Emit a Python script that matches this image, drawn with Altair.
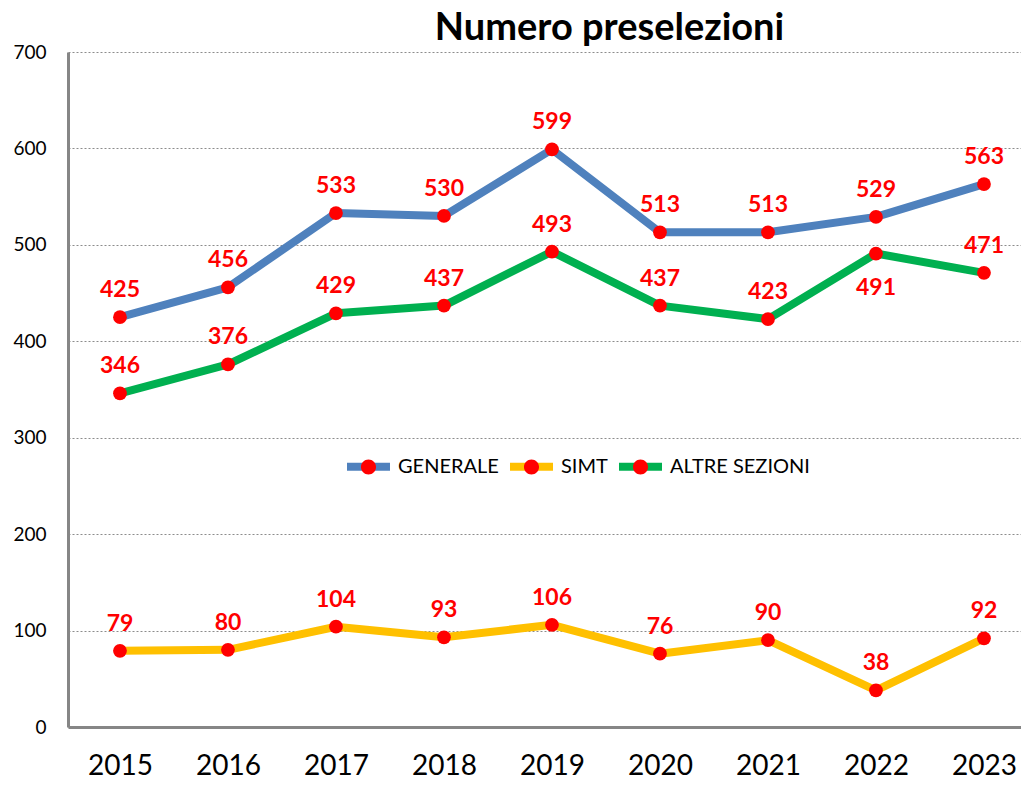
import altair as alt
import pandas as pd

years = ["2015", "2016", "2017", "2018", "2019", "2020", "2021", "2022", "2023"]
series_names = ["GENERALE", "SIMT", "ALTRE SEZIONI"]
generale = [425, 456, 533, 530, 599, 513, 513, 529, 563]
simt = [79, 80, 104, 93, 106, 76, 90, 38, 92]
altre = [346, 376, 429, 437, 493, 437, 423, 491, 471]
line_colors = ["#4F81BD", "#FFC000", "#00B050"]
y_ticks = [0, 100, 200, 300, 400, 500, 600, 700]

rows = []
for name, vals in zip(series_names, [generale, simt, altre]):
    for yr, v in zip(years, vals):
        rows.append({"year": yr, "series": name, "value": v})
df = pd.DataFrame(rows)

FONT = "Lato"

x_enc = alt.X(
    "year:O",
    sort=years,
    scale=alt.Scale(type="point", padding=0.412, align=0.584),
    axis=alt.Axis(
        title=None, labelAngle=0, labelFont=FONT, labelFontSize=28,
        labelColor="#000000", ticks=False, labelPadding=25,
        domainColor="#868686", domainWidth=3, grid=False,
    ),
)
y_enc = alt.Y(
    "value:Q",
    scale=alt.Scale(domain=[0, 700], nice=False),
    axis=alt.Axis(
        title=None, values=y_ticks, labelFont=FONT, labelFontSize=19,
        labelColor="#000000", ticks=False, labelPadding=22,
        domainColor="#868686", domainWidth=3,
        grid=True, gridColor="#8c8c8c", gridDash=[2, 2], gridWidth=1,
    ),
)

base = alt.Chart(df)

legend_common = dict(
    orient="none", legendX=275, legendY=389, direction="horizontal",
    title=None, labelFont=FONT, labelFontSize=20, labelColor="#000000",
    labelOffset=4, columnPadding=-5, padding=0, symbolOffset=0,
    symbolSize=1849, symbolStrokeWidth=8,
)

lines = base.mark_line(strokeWidth=8, strokeJoin="round", strokeCap="round").encode(
    x=x_enc,
    y=y_enc,
    color=alt.Color(
        "series:N",
        scale=alt.Scale(domain=series_names, range=line_colors),
        legend=alt.Legend(symbolType="stroke", zindex=1, **legend_common),
    ),
)

dot_path = "M-1,0Z M1,0Z M-0.35,0A0.35,0.35,0,1,1,0.35,0A0.35,0.35,0,1,1,-0.35,0Z"
points = base.transform_calculate(series2="datum.series").mark_circle(
    size=190, opacity=1
).encode(
    x=x_enc,
    y=y_enc,
    fill=alt.Fill(
        "series2:N",
        sort=series_names,
        scale=alt.Scale(range=["#FF0000", "#FF0000", "#FF0000"]),
        legend=alt.Legend(
            symbolType=dot_path, symbolStrokeColor="transparent",
            symbolFillColor="#FF0000", symbolOpacity=1,
            labelOpacity=0, zindex=2, **legend_common,
        ),
    ),
)

label_style = dict(font=FONT, fontSize=23, fontWeight="bold", color="#FF0000")
below_cond = "datum.series == 'ALTRE SEZIONI' && datum.year == '2022'"

labels_above = base.transform_filter("!(" + below_cond + ")").mark_text(
    dy=-27, **label_style
).encode(x=x_enc, y=y_enc, text="value:Q")

labels_below = base.transform_filter(below_cond).mark_text(
    dy=34, **label_style
).encode(x=x_enc, y=y_enc, text="value:Q")

chart = alt.layer(lines, points, labels_above, labels_below).properties(
    width=953,
    height=675,
    autosize=alt.AutoSizeParams(type="none"),
    padding={"left": 60, "top": 44, "right": 0, "bottom": 56},
    title=alt.TitleParams(
        "Numero preselezioni", font=FONT, fontSize=38, fontWeight="bold",
        color="#000000", anchor="middle", dx=65, dy=42, baseline="alphabetic",
        offset=7,
    ),
).configure_view(stroke=None)

chart.save("out.html", embed_options={"renderer": "svg", "actions": False})
